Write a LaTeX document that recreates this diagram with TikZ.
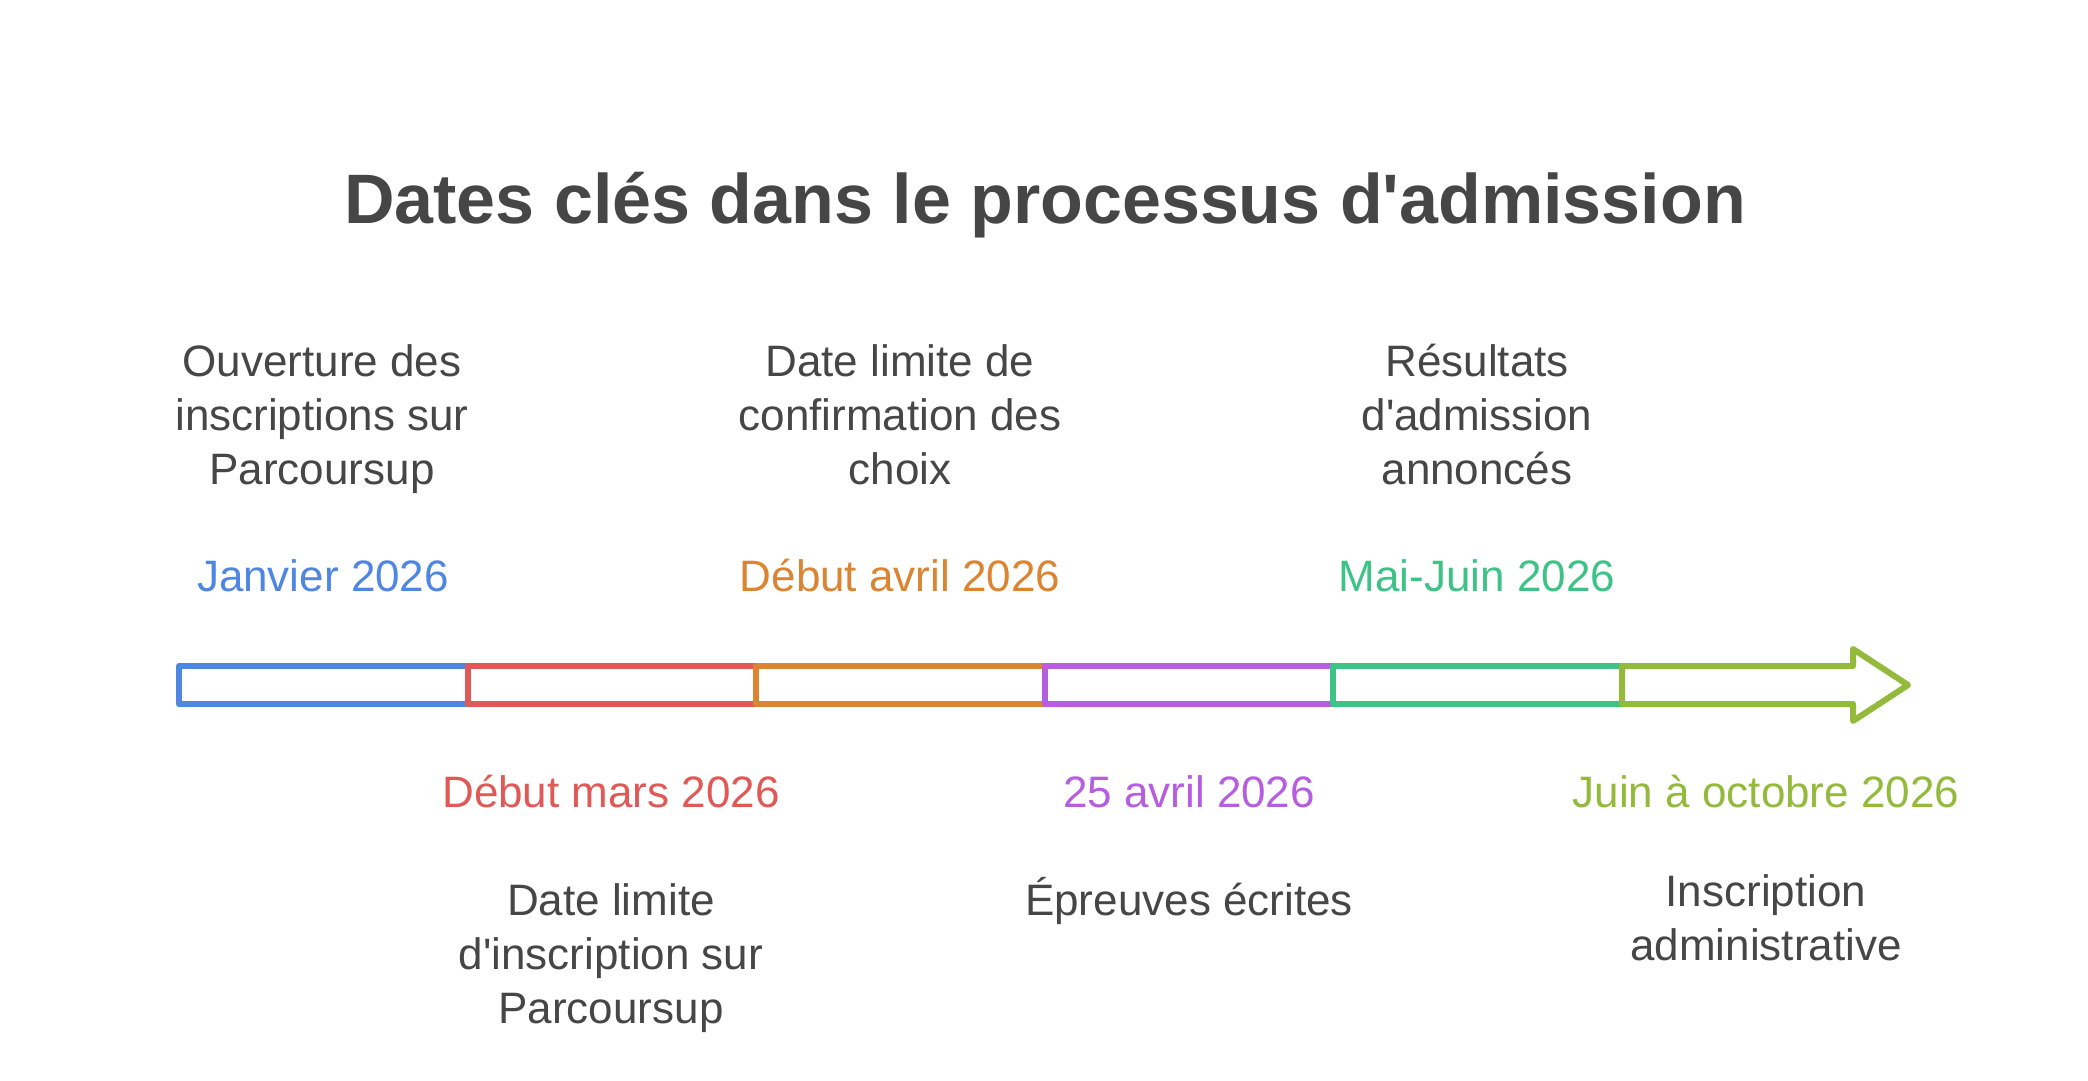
\documentclass[tikz,border=0pt]{standalone}
\usepackage{fontspec}
\setmainfont{Liberation Sans}[Ligatures=TeXOff]
\definecolor{txt}{HTML}{464646}
\definecolor{cblue}{HTML}{4E86E2}
\definecolor{cred}{HTML}{E05956}
\definecolor{corange}{HTML}{DB8432}
\definecolor{cpurple}{HTML}{B65DE0}
\definecolor{cteal}{HTML}{3EC387}
\definecolor{colive}{HTML}{93BA3B}
\begin{document}
\begin{tikzpicture}[x=1pt,y=-1pt,
  lbl/.style={anchor=base,align=center,text=txt,inner sep=0pt,font=\fontsize{44}{54}\selectfont},
  datelbl/.style={anchor=base,inner sep=0pt,font=\fontsize{44}{54}\selectfont},
  seg/.style={line width=6pt,line join=round,fill=white},
  titlefont/.style={font=\bfseries\fontsize{70}{84}\selectfont}]
\useasboundingbox (0,0) rectangle (2088,1081);
\fill[white] (0,0) rectangle (2088,1081);
% title
\node[titlefont,anchor=base,text=txt,inner sep=0pt] (title) at (1045,223) {Dates clés dans le processus d'admission};
% bar coordinates
\coordinate (p0) at (179,666);
\coordinate (p1) at (467.6,666);
\coordinate (p2) at (756.2,666);
\coordinate (p3) at (1044.8,666);
\coordinate (p4) at (1333.4,666);
\coordinate (p5) at (1622,666);
\coordinate (q1) at (467.6,704);
\coordinate (q2) at (756.2,704);
\coordinate (q3) at (1044.8,704);
\coordinate (q4) at (1333.4,704);
\coordinate (q5) at (1622,704);
\coordinate (h) at (1853,666);
\coordinate (tip) at (1908,685);
\draw[seg,draw=cblue] (p0) rectangle (q1);
\draw[seg,draw=cred] (p1) rectangle (q2);
\draw[seg,draw=corange] (p2) rectangle (q3);
\draw[seg,draw=cpurple] (p3) rectangle (q4);
\draw[seg,draw=cteal] (p4) rectangle (q5);
\draw[seg,draw=colive] (p5) -- (h) -- (1853,649) -- (tip) -- (1853,721) -- (1853,704) -- (q5) -- cycle;
% top labels (base = last line)
\node[lbl] (l1) at (322,484) {Ouverture des\\inscriptions sur\\Parcoursup};
\node[lbl] (l3) at (900,484) {Date limite de\\confirmation des\\choix};
\node[lbl] (l5) at (1477,484) {Résultats\\d'admission\\annoncés};
\node[datelbl,text=cblue] (d1) at (323,591) {Janvier 2026};
\node[datelbl,text=corange] (d3) at (900,591) {Début avril 2026};
\node[datelbl,text=cteal] (d5) at (1477,591) {Mai-Juin 2026};
% bottom labels
\node[datelbl,text=cred] (d2) at (611,807) {Début mars 2026};
\node[datelbl,text=cpurple] (d4) at (1189,807) {25 avril 2026};
\node[datelbl,text=colive] (d6) at (1766,807) {Juin à octobre 2026};
\node[lbl] (l2) at (611,1023) {Date limite\\d'inscription sur\\Parcoursup};
\node[lbl] (l4) at (1189,915) {Épreuves écrites};
\node[lbl] (l6) at (1766,960) {Inscription\\administrative};
\end{tikzpicture}
\end{document}
